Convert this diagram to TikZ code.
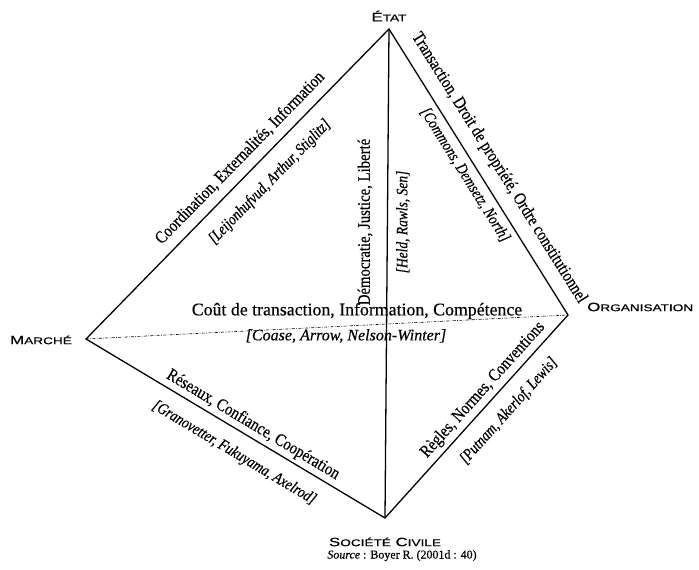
\documentclass[tikz,border=0pt]{standalone}
\usepackage{fontspec}
\setmainfont[FakeBold=0.4]{Liberation Serif}
\newfontfamily\narrowfont[FakeStretch=0.84, FakeBold=0.4]{Liberation Serif}
\newfontfamily\capsfont[FakeStretch=1.4, FakeBold=0.6]{Liberation Sans}
% fake small caps: first letter big, the rest small
\newcommand{\fsc}[2]{{\fontsize{10.3}{12}\selectfont #1}{\fontsize{8.3}{10}\selectfont #2}}

\begin{document}
\begin{tikzpicture}[x=0.03cm, y=-0.03cm,
	lbl/.style={font=\narrowfont\fontsize{15}{17}\selectfont, inner sep=0pt},
	cit/.style={font=\narrowfont\itshape\fontsize{13.7}{16}\selectfont, inner sep=0pt},
	hlbl/.style={font=\fontsize{15.2}{17}\selectfont, inner sep=0pt},
	hcit/.style={font=\itshape\fontsize{13.7}{16}\selectfont, inner sep=0pt},
	vtx/.style={font=\capsfont, inner sep=0pt},
	edge/.style={line width=1.1pt},
	hidden/.style={line width=0.5pt, dash pattern=on 2.5pt off 1.2pt on 0.6pt off 1.2pt}]

	\useasboundingbox (0,0) rectangle (699,570);

	% corners of the tetrahedron
	\coordinate (E) at (389,29);
	\coordinate (M) at (86,339);
	\coordinate (O) at (568,315);
	\coordinate (S) at (385,518);

	% edges
	\draw[edge] (M) -- (E) -- (O) -- (S) -- cycle;
	\draw[edge] (E) -- (S);
	\draw[hidden] (M) -- (O);

	% names of the corners
	\node[vtx] (etat) at (389,16) {\fsc{É}{TAT}};
	\node[vtx] (marche) at (41,340) {\fsc{M}{ARCHÉ}};
	\node[vtx, anchor=west] (orga) at (587,307) {\fsc{O}{RGANISATION}};
	\node[vtx] (societe) at (385,542) {\fsc{S}{OCIÉTÉ} \fsc{C}{IVILE}};
	\node[anchor=base, font=\fontsize{10.2}{12}\selectfont, inner sep=0pt] (source) at (402,558.5) {\textit{Source} : Boyer R. (2001d : 40)};

	% Marche -- Etat
	\node[lbl, rotate=45.65] (coord) at (240,158) {Coordination, Externalités, Information};
	\node[cit, rotate=45.65] (coordref) at (270,182) {[Leijonhufvud, Arthur, Stiglitz]};

	% Etat -- Organisation
	\node[lbl, rotate=-57.96] (trans) at (499,168) {Transaction, Droit de propriété, Ordre constitutionnel};
	\node[cit, rotate=-57.96] (transref) at (465,175) {[Commons, Demsetz, North]};

	% Etat -- Societe civile
	\node[lbl, rotate=90] (demo) at (365,222) {Démocratie, Justice, Liberté};
	\node[cit, rotate=90] (demoref) at (403,222) {[Held, Rawls, Sen]};

	% Marche -- Organisation
	\node[hlbl] (cout) at (357,311) {Coût de transaction, Information, Compétence};
	\node[hcit] (coutref) at (346,336) {[Coase, Arrow, Nelson-Winter]};

	% Marche -- Societe civile
	\node[lbl, rotate=-30.9] (reseau) at (253,425) {Réseaux, Confiance, Coopération};
	\node[cit, rotate=-30.9] (reseauref) at (234,453) {[Granovetter, Fukuyama, Axelrod]};

	% Organisation -- Societe civile
	\node[lbl, rotate=47.97] (regle) at (483,390) {Règles, Normes, Conventions};
	\node[cit, rotate=47.97] (regleref) at (509,411) {[Putnam, Akerlof, Lewis]};

\end{tikzpicture}
\end{document}
